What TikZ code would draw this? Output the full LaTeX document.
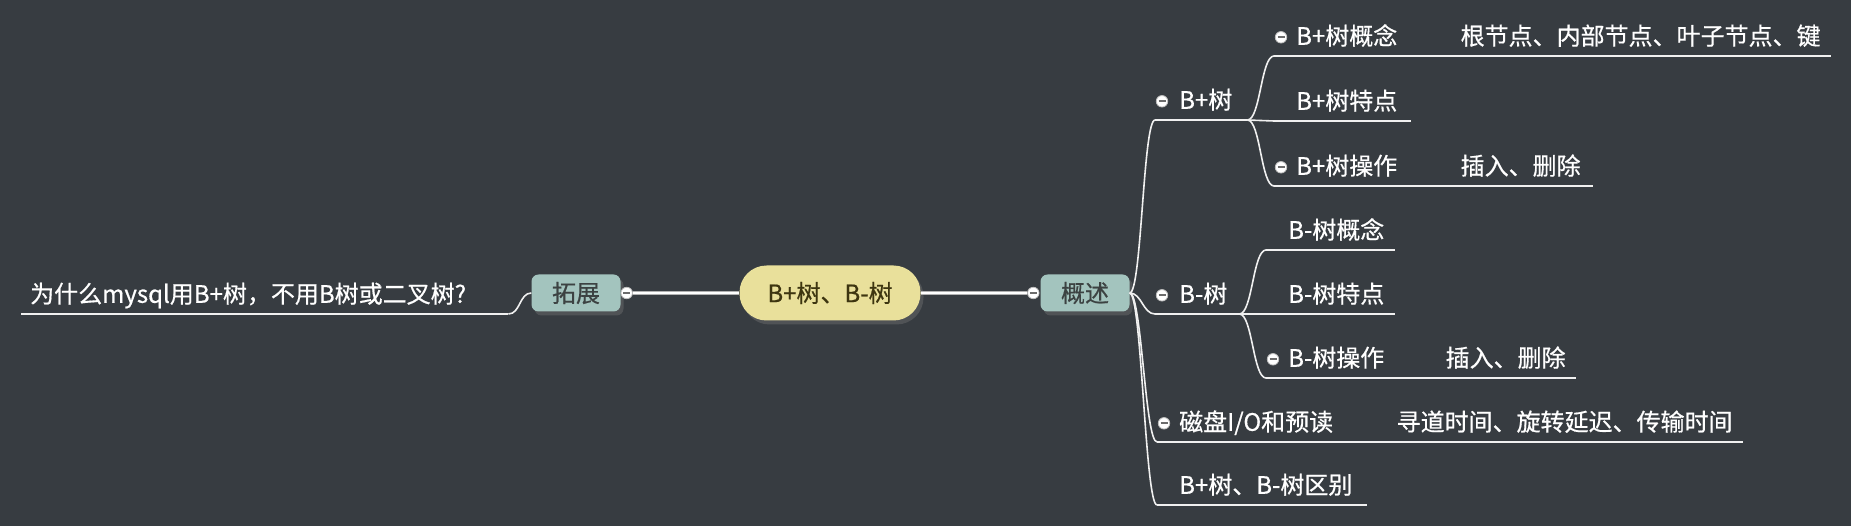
\documentclass[tikz,border=0pt]{standalone}
\usepackage{fontspec}
\setmainfont{Noto Sans CJK SC}[FakeBold=0.6]
\usetikzlibrary{shadows}

\definecolor{mapbg}{HTML}{373C41}
\definecolor{rootfill}{HTML}{E9E09B}
\definecolor{rootink}{HTML}{3D3510}
\definecolor{subfill}{HTML}{A3C4BE}
\definecolor{subink}{HTML}{3C4242}
\definecolor{branchclr}{HTML}{F0F0F0}

\begin{document}
\begin{tikzpicture}[x=1pt, y=-1pt,
  every node/.style={font=\fontsize{24}{28}\selectfont},
  rootbox/.style={fill=rootfill, text=rootink, rounded corners=27pt,
    minimum width=181pt, minimum height=55pt,
    drop shadow={shadow xshift=3pt, shadow yshift=-4pt, opacity=.35}},
  subbox/.style={fill=subfill, text=subink, rounded corners=7pt,
    minimum width=89pt, minimum height=37pt,
    drop shadow={shadow xshift=3pt, shadow yshift=-4pt, opacity=.35}},
  topic/.style 2 args={anchor=south west, text=white, inner xsep=0pt,
    inner ysep=7pt, text height=19pt, text depth=4pt, align=left,
    text width=#2, execute at begin node={\hspace*{#1}}},
  fold/.style={circle, fill=white, draw=gray!50, line width=.8pt, inner sep=0pt,
    minimum size=11.5pt,
    path picture={\draw[gray!85!black, line width=2pt]
      ([xshift=-3.5pt]path picture bounding box.center) --
      ([xshift=3.5pt]path picture bounding box.center);}},
  branch/.style={draw=branchclr, line width=1.6pt},
  trunk/.style={draw=gray!60, double=white, double distance=2pt, line width=1pt}
]

  % Background
  \useasboundingbox (0,0) rectangle (1851,526);
  \fill[mapbg] (0,0) rectangle (1851,526);

  % Central topic and its two main branches
  \node[subbox] (tuozhan) at (576,293) {拓展};
  \node[subbox] (gaishu)  at (1085,293) {概述};
  \node[fold] (tzfold) at ([xshift=6pt]tuozhan.east) {};
  \node[fold] (gsfold) at ([xshift=-7pt]gaishu.west) {};
  \node[rootbox] (root) at (830,293) {B+树、B-树};
  \draw[trunk] (root) -- (tzfold);
  \draw[trunk] (root) -- (gsfold);

  % Left side
  \node[topic={9pt}{487pt}] (why) at (21,314) {为什么mysql用B+树，不用B树或二叉树?};

  % Right side: B+ tree
  \node[topic={24pt}{92pt}]  (bplus)   at (1155,120) {B+树};
  \node[topic={22pt}{137pt}] (bpidea)  at (1274,56)  {B+树概念};
  \node[topic={49pt}{419pt}] (bpparts) at (bpidea.south east) {根节点、内部节点、叶子节点、键};
  \node[topic={22pt}{137pt}] (bptrait) at (1274,121) {B+树特点};
  \node[topic={22pt}{137pt}] (bpop)    at (1274,186) {B+树操作};
  \node[topic={49pt}{181pt}] (bpopval) at (bpop.south east) {插入、删除};

  % Right side: B- tree
  \node[topic={24pt}{84pt}]  (bminus)  at (1155,314) {B-树};
  \node[topic={22pt}{129pt}] (bmidea)  at (1266,250) {B-树概念};
  \node[topic={22pt}{129pt}] (bmtrait) at (1266,314) {B-树特点};
  \node[topic={22pt}{129pt}] (bmop)    at (1266,378) {B-树操作};
  \node[topic={50pt}{180pt}] (bmopval) at (bmop.south east) {插入、删除};

  % Right side: disk and difference
  \node[topic={22pt}{190pt}] (disk)    at (1157,442) {磁盘I/O和预读};
  \node[topic={49pt}{395pt}] (diskval) at (disk.south east) {寻道时间、旋转延迟、传输时间};
  \node[topic={22pt}{210pt}] (diff)    at (1157,505) {B+树、B-树区别};

  % Underlines
  \foreach \n in {why,bplus,bpidea,bpparts,bptrait,bpop,bpopval,
                  bminus,bmidea,bmtrait,bmop,bmopval,disk,diskval,diff}
    \draw[branch] (\n.south west) -- (\n.south east);

  % Curved connectors
  \draw[branch] (tuozhan.west) .. controls +(-12,0) and +(12,0) .. (why.south east);
  \foreach \n in {bplus,bminus,disk,diff}
    \draw[branch] (gaishu.east) .. controls +(12,0) and +(-12,0) .. (\n.south west);
  \foreach \n in {bpidea,bptrait,bpop}
    \draw[branch] (bplus.south east) .. controls +(13,0) and +(-13,0) .. (\n.south west);
  \foreach \n in {bmidea,bmtrait,bmop}
    \draw[branch] (bminus.south east) .. controls +(13,0) and +(-13,0) .. (\n.south west);

  % Fold markers
  \foreach \n in {bplus,bpidea,bpop,bminus,bmop,disk}
    \node[fold] at ([xshift=7pt]\n.west) {};

\end{tikzpicture}
\end{document}
